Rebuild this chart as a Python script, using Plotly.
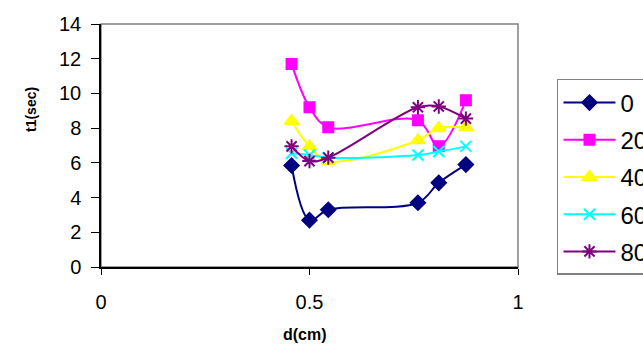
import plotly.graph_objects as go

d_cm = [0.457, 0.5, 0.545, 0.76, 0.81, 0.875]
series_names = ["0", "20", "40", "60", "80"]
t_0 = [5.85, 2.7, 3.3, 3.7, 4.85, 5.9]
t_20 = [11.7, 9.2, 8.05, 8.45, 6.95, 9.6]
t_40 = [8.4, 6.95, 6.1, 7.3, 8.0, 8.05]
t_60 = [6.55, 6.45, 6.3, 6.45, 6.65, 6.95]
t_80 = [6.95, 6.1, 6.3, 9.2, 9.25, 8.55]

values = [t_0, t_20, t_40, t_60, t_80]
colors = ["#000080", "#FF00FF", "#FFFF00", "#00FFFF", "#800080"]
symbols = ["diamond", "square", "triangle-up", "x-thin-open", "asterisk-open"]
sizes = [11, 10, 12, 11, 12]

fig = go.Figure()
for name, ys, c, s, sz in zip(series_names, values, colors, symbols, sizes):
    fig.add_trace(go.Scatter(
        x=d_cm, y=ys, name=name, mode="lines+markers",
        line=dict(color=c, width=2, shape="spline", smoothing=1),
        marker=dict(symbol=s, size=sz, color=c, line=dict(color=c, width=2)),
        legendgroup=name,
    ))

fig.add_shape(type="rect", xref="paper", yref="paper", x0=0, x1=1, y0=0, y1=1,
              line=dict(color="#808080", width=1.5), layer="below")

fig.update_layout(
    width=643, height=352,
    margin=dict(l=101, r=125, t=24, b=85, autoexpand=False),
    paper_bgcolor="white", plot_bgcolor="white",
    font=dict(family="Liberation Sans, Arial, sans-serif", color="black"),
    showlegend=True,
    legend=dict(
        x=1.0935, y=0.7737, xanchor="left", yanchor="top",
        bordercolor="#808080", borderwidth=1.5, bgcolor="white",
        font=dict(size=24), itemwidth=52, traceorder="grouped",
        tracegroupgap=3,
    ),
    xaxis=dict(range=[0, 1], dtick=0.5, showgrid=False, zeroline=False,
               showline=True, linecolor="black", linewidth=1.5,
               ticks="outside", ticklen=6, tickcolor="black",
               tickfont=dict(size=20), ticklabelstandoff=10),
    yaxis=dict(range=[0, 14], dtick=2, showgrid=False, zeroline=False,
               showline=True, linecolor="black", linewidth=1.5,
               ticks="outside", ticklen=8, tickcolor="black",
               tickfont=dict(size=20), ticklabelstandoff=6),
    annotations=[
        dict(text="<b>t1(sec)</b>", textangle=-90, xref="paper", yref="paper",
             x=(21 - 101) / 417, y=(267 - 110) / 243, showarrow=False,
             font=dict(size=14)),
        dict(text="<b>d(cm)</b>", xref="paper", yref="paper",
             x=(305 - 101) / 417, y=(267 - 345) / 243, showarrow=False,
             font=dict(size=16)),
    ],
)

fig.write_html("out.html", config={"displayModeBar": False})
with open("out.html", encoding="utf-8") as f:
    html = f.read()
html = html.replace("<body>", '<body style="margin:0;overflow:hidden">', 1)
with open("out.html", "w", encoding="utf-8") as f:
    f.write(html)
